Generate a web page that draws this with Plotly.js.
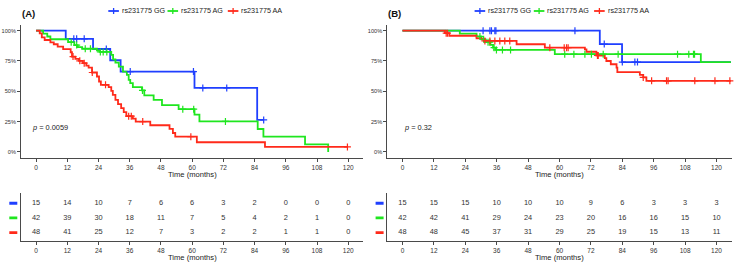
<!DOCTYPE html>
<html>
<head>
<meta charset="utf-8">
<script src="https://cdn.plot.ly/plotly-3.0.1.min.js"></script>
<style>
  html, body { margin: 0; padding: 0; background: #ffffff; }
  #chart { width: 737px; height: 265px; }
</style>
</head>
<body>
<div id="chart"></div>
<script>
// ---- Data -------------------------------------------------------------
const groupNames = ['rs231775 GG', 'rs231775 AG', 'rs231775 AA'];
const breakMonths = [0, 12, 24, 36, 48, 60, 72, 84, 96, 108, 120];
const survTickVals = [0, 0.25, 0.5, 0.75, 1];
const survTickText = ['0%', '25%', '50%', '75%', '100%'];

// Panel A: Kaplan-Meier step curves (event times, survival after each step)
const aGGTimes = [0, 11.4, 21.9, 28.5, 32.5, 60.9, 85.0];
const aGGSurv  = [1, 0.933, 0.849, 0.756, 0.663, 0.528, 0.264];
const aGGEnd = 87.5;
const aGGCensor = [14.5, 15.6, 18.5, 27.0, 36.2, 60.5, 64.1, 73.3, 87.5];

const aAGTimes = [0, 2.7, 4.3, 5.5, 12.3, 14.7, 16.0, 17.7, 23.4, 24.4, 28.9, 29.6, 30.5, 31.8, 33.4, 34.9, 35.6, 36.2, 37.2, 40.7, 41.6, 45.2, 48.4, 54.8, 60.9, 62.8, 85.2, 87.4, 103.4, 112.3];
const aAGSurv  = [1, 0.976, 0.952, 0.929, 0.905, 0.881, 0.865, 0.851, 0.838, 0.825, 0.8, 0.764, 0.737, 0.704, 0.663, 0.636, 0.595, 0.567, 0.534, 0.507, 0.466, 0.43, 0.386, 0.353, 0.307, 0.252, 0.189, 0.126, 0.063, 0];
const aAGEnd = 112.3;
const aAGCensor = [13.5, 15.6, 18.9, 20.9, 24.7, 25.8, 27.2, 40.9, 56.4, 60.6, 72.8];

const aAATimes = [0, 1.4, 2.2, 3.3, 5.5, 6.8, 8.3, 10.4, 13.3, 13.8, 15.1, 16.5, 18.0, 19.3, 20.2, 21.5, 23.4, 24.2, 24.9, 27.9, 28.9, 29.5, 30.5, 31.5, 32.7, 33.7, 34.7, 37.2, 38.3, 43.9, 51.3, 52.6, 53.5, 61.8, 88.0];
const aAASurv  = [1, 0.978, 0.945, 0.923, 0.904, 0.888, 0.868, 0.847, 0.822, 0.786, 0.767, 0.751, 0.732, 0.712, 0.696, 0.655, 0.622, 0.581, 0.553, 0.534, 0.504, 0.471, 0.43, 0.395, 0.362, 0.329, 0.295, 0.274, 0.25, 0.22, 0.19, 0.156, 0.126, 0.08, 0.041];
const aAAEnd = 119.7;
const aAACensor = [14.2, 16.8, 18.5, 21.6, 26.7, 35.6, 36.6, 41.0, 59.5, 119.7];

// Panel B
const bGGTimes = [0, 75.4, 83.9];
const bGGSurv  = [1, 0.889, 0.741];
const bGGEnd = 125.5;
const bGGCensor = [30.8, 33.4, 34.0, 35.3, 35.7, 65.9, 77.1, 84.0, 88.8, 89.8];

const bAGTimes = [0, 21.9, 28.3, 30.2, 31.5, 33.6, 34.6, 35.7, 58.2, 114.0];
const bAGSurv  = [1, 0.976, 0.952, 0.929, 0.905, 0.882, 0.86, 0.841, 0.806, 0.74];
const bAGEnd = 125.5;
const bAGCensor = [29.6, 31.0, 32.7, 33.4, 35.0, 35.9, 38.2, 41.3, 62.0, 65.5, 69.7, 72.2, 76.7, 82.4, 105.1, 109.4, 111.2, 111.6];

const bAATimes = [0, 16.2, 17.9, 28.3, 30.2, 31.3, 43.6, 54.4, 69.7, 70.3, 74.1, 77.3, 77.9, 79.6, 81.8, 82.1, 90.7, 92.0, 93.2];
const bAASurv  = [1, 0.979, 0.958, 0.937, 0.93, 0.915, 0.888, 0.86, 0.845, 0.826, 0.795, 0.773, 0.75, 0.723, 0.696, 0.658, 0.636, 0.614, 0.586];
const bAAEnd = 125.5;
const bAACensor = [16.7, 17.2, 31.5, 33.4, 35.3, 37.2, 39.1, 41.0, 56.3, 61.8, 62.7, 63.3, 74.5, 74.8, 92.0, 95.2, 100.9, 101.5, 111.7, 119.4, 125.1];

// Numbers at risk at each break
const aRiskGG = [15, 14, 10, 7, 6, 6, 3, 2, 0, 0, 0];
const aRiskAG = [42, 39, 30, 18, 11, 7, 5, 4, 2, 1, 0];
const aRiskAA = [48, 41, 25, 12, 7, 3, 2, 2, 1, 1, 0];
const bRiskGG = [15, 15, 15, 10, 10, 10, 9, 6, 3, 3, 3];
const bRiskAG = [42, 42, 41, 29, 24, 23, 20, 16, 16, 15, 10];
const bRiskAA = [48, 48, 45, 37, 31, 29, 25, 19, 15, 13, 11];

const pValueA = '0.0059';
const pValueB = '0.32';

// ---- Styling / geometry ----------------------------------------------
const W = 737, H = 265;
const colors = ['#1f3fff', '#1fe61f', '#ff2a1a'];
const axisColor = '#4a4a4a';
const textColor = '#333333';
const FONT = '"Liberation Sans", Arial, sans-serif';

const px = v => v / W;            // horizontal pixel -> paper
const py = v => 1 - v / H;        // vertical pixel -> paper

const panels = [
  { left: 21, right: 363.3, label: '(A)', p: pValueA, pX: 31,
    curves: [[aGGTimes, aGGSurv, aGGEnd, aGGCensor], [aAGTimes, aAGSurv, aAGEnd, aAGCensor], [aAATimes, aAASurv, aAAEnd, aAACensor]],
    risk: [aRiskGG, aRiskAG, aRiskAA] },
  { left: 387.3, right: 731.7, label: '(B)', p: pValueB, pX: 402.7,
    curves: [[bGGTimes, bGGSurv, bGGEnd, bGGCensor], [bAGTimes, bAGSurv, bAGEnd, bAGCensor], [bAATimes, bAASurv, bAAEnd, bAACensor]],
    risk: [bRiskGG, bRiskAG, bRiskAA] }
];

const kmTop = 24.6, kmBottom = 158;     // survival plot area (px)
const tabTop = 193, tabBottom = 240.7;  // risk table area (px)
const xRange = [-5.8, 125.8];

function stepAt(times, surv, t) {
  let v = surv[0];
  for (let i = 0; i < times.length; i++) if (times[i] <= t) v = surv[i];
  return v;
}

const traces = [];
const shapes = [];
const annotations = [];
const layout = {
  width: W, height: H,
  margin: { l: 0, r: 0, t: 0, b: 0 },
  paper_bgcolor: '#ffffff', plot_bgcolor: '#ffffff',
  showlegend: false,
  font: { family: FONT, color: textColor }
};

function baseAxis(extra) {
  return Object.assign({
    showgrid: false, zeroline: false, showline: true,
    linecolor: axisColor, linewidth: 1,
    ticks: 'outside', ticklen: 3, tickwidth: 1, tickcolor: axisColor,
    fixedrange: true
  }, extra);
}

panels.forEach((pn, k) => {
  const kmX = k === 0 ? 'x' : 'x2';
  const kmY = k === 0 ? 'y' : 'y2';
  const tbX = k === 0 ? 'x3' : 'x4';
  const tbY = k === 0 ? 'y3' : 'y4';
  const sfx = n => (n === 'x' || n === 'y') ? '' : n.slice(1);
  const dom = [px(pn.left), px(pn.right)];

  layout['xaxis' + sfx(kmX)] = baseAxis({
    domain: dom, range: xRange, anchor: kmY,
    tickvals: breakMonths, ticktext: breakMonths.map(String),
    tickfont: { size: 6.5, color: textColor }
  });
  layout['yaxis' + sfx(kmY)] = baseAxis({
    domain: [py(kmBottom), py(kmTop)], range: [-0.05, 1.05], anchor: kmX,
    tickvals: survTickVals, ticktext: survTickText,
    tickfont: { size: 5.6, color: textColor }
  });
  layout['xaxis' + sfx(tbX)] = baseAxis({
    domain: dom, range: xRange, anchor: tbY,
    tickvals: breakMonths, ticktext: breakMonths.map(String),
    tickfont: { size: 6.5, color: textColor }
  });
  layout['yaxis' + sfx(tbY)] = baseAxis({
    domain: [py(tabBottom), py(tabTop)], range: [0.45, 3.7], anchor: tbX,
    ticks: '', showticklabels: false
  });

  // survival curves and censoring marks
  pn.curves.forEach((c, g) => {
    const [times, surv, end] = c;
    traces.push({
      type: 'scatter', mode: 'lines', xaxis: kmX, yaxis: kmY,
      x: times.concat([end]), y: surv.concat([surv[surv.length - 1]]),
      line: { shape: 'hv', color: colors[g], width: 1.8 },
      name: groupNames[g], hoverinfo: 'skip'
    });
  });
  pn.curves.forEach((c, g) => {
    const [times, surv, , cens] = c;
    traces.push({
      type: 'scatter', mode: 'markers', xaxis: kmX, yaxis: kmY,
      x: cens, y: cens.map(t => stepAt(times, surv, t)),
      marker: { symbol: 'cross-thin', size: 5, line: { color: colors[g], width: 1.2 } },
      hoverinfo: 'skip', cliponaxis: false
    });
  });

  // risk table numbers
  pn.risk.forEach((row, g) => {
    traces.push({
      type: 'scatter', mode: 'text', xaxis: tbX, yaxis: tbY,
      x: breakMonths, y: breakMonths.map(() => 3 - g),
      text: row.map(String),
      textfont: { size: 7.4, color: textColor, family: FONT },
      hoverinfo: 'skip', cliponaxis: false
    });
    shapes.push({
      type: 'line', xref: 'paper', yref: tbY,
      x0: px(pn.left - 11.7), x1: px(pn.left - 3.7), y0: 3 - g, y1: 3 - g,
      line: { color: colors[g], width: 2.8 }
    });
  });

  // panel label
  annotations.push({
    xref: 'paper', yref: 'paper', x: px(pn.left - 1), y: py(13.3),
    xanchor: 'left', yanchor: 'middle', showarrow: false,
    text: '<b>' + pn.label + '</b>', font: { size: 9.6, color: '#111', family: FONT }
  });

  // p-value
  annotations.push({
    xref: 'paper', yref: 'paper', x: px(pn.pX - 1), y: py(127.5),
    xanchor: 'left', yanchor: 'middle', showarrow: false,
    text: '<i>p</i> = ' + pn.p, font: { size: 7.4, color: '#222', family: FONT }
  });

  // axis titles (below the survival plot and below the risk table)
  const mid = px((pn.left + pn.right) / 2);
  [174.6, 257.6].forEach(yPix => {
    annotations.push({
      xref: 'paper', yref: 'paper', x: mid, y: py(yPix),
      xanchor: 'center', yanchor: 'middle', showarrow: false,
      borderpad: 0,
      text: 'Time (months)', font: { size: 7.6, color: '#222', family: FONT }
    });
  });

  // legend across the top
  const legendOffsets = [87.3, 146.5, 206.8];
  legendOffsets.forEach((off, g) => {
    const x0 = pn.left + off, x1 = x0 + 10.6, yc = 11;
    shapes.push({ type: 'line', xref: 'paper', yref: 'paper',
      x0: px(x0), x1: px(x1), y0: py(yc), y1: py(yc),
      line: { color: colors[g], width: 1.8 } });
    shapes.push({ type: 'line', xref: 'paper', yref: 'paper',
      x0: px((x0 + x1) / 2), x1: px((x0 + x1) / 2), y0: py(yc - 3), y1: py(yc + 3),
      line: { color: colors[g], width: 1.3 } });
    annotations.push({
      xref: 'paper', yref: 'paper', x: px(x1 + 1), y: py(yc),
      xanchor: 'left', yanchor: 'middle', showarrow: false,
      text: groupNames[g], font: { size: 7.2, color: '#222', family: FONT }
    });
  });
});

layout.shapes = shapes;
layout.annotations = annotations;

Plotly.newPlot('chart', traces, layout, { staticPlot: true, displayModeBar: false });
</script>
</body>
</html>
